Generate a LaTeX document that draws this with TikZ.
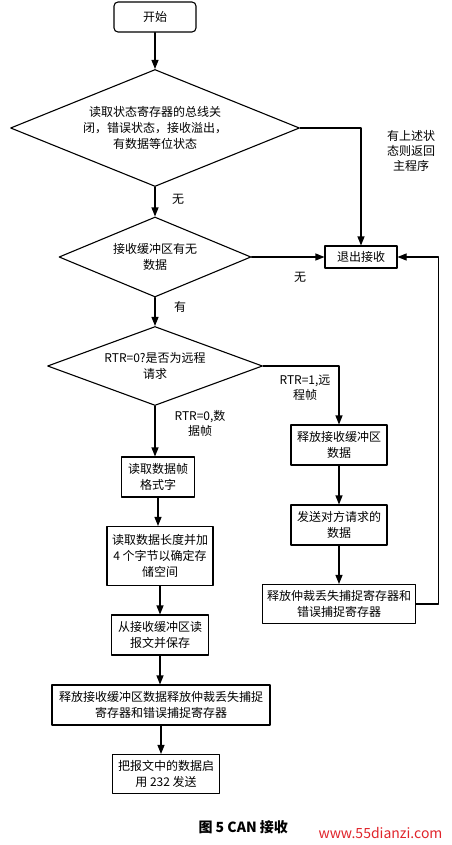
\documentclass[tikz,border=0pt]{standalone}
\usepackage{fontspec}
\setmainfont{Noto Sans CJK SC}
\usetikzlibrary{arrows.meta, shapes.geometric, positioning, calc}
\definecolor{markred}{HTML}{E0242B}

\begin{document}
\begin{tikzpicture}[x=1pt, y=1pt, line cap=round, line join=round,
    every node/.style={font=\fontsize{12}{16}\selectfont},
    box/.style={draw, line width=1.1pt, align=center, inner sep=2pt},
    decision/.style={diamond, draw, line width=1.1pt, align=center, aspect=2.5, inner sep=0pt},
    arr/.style={-{Triangle[length=9pt,width=7pt]}, line width=1.1pt},
    lbl/.style={align=center, font=\fontsize{12}{15}\selectfont}]
      \useasboundingbox (0,0) rectangle (451,-845);

      % Inicio y decisiones
      \node[box, rounded corners=4pt, minimum width=82pt, minimum height=30pt] (start) at (155,-17) {开始};
      \node[decision, minimum width=289pt, minimum height=117pt] (chk) at (155,-128) {读取状态寄存器的总线关\\闭，错误状态，接收溢出，\\有数据等位状态};
      \node[decision, minimum width=192pt, minimum height=80pt] (buf) at (155,-257) {接收缓冲区有无\\数据};
      \node[decision, minimum width=215pt, minimum height=79pt] (rtr) at (155,-366) {RTR=0?是否为远程\\请求};
      \node[box, minimum width=72pt, minimum height=22pt] (quit) at (361,-257) {退出接收};

      % Trama de datos
      \node[box, minimum width=73pt, minimum height=40pt] (fmt) at (158,-477) {读取数据帧\\格式字};
      \node[box, minimum width=106pt, minimum height=59pt] (len) at (160,-556) {读取数据长度并加\\4 个字节以确定存\\储空间};
      \node[box, minimum width=97pt, minimum height=40pt] (save) at (160,-635) {从接收缓冲区读\\报文并保存};
      \node[box, minimum width=218pt, minimum height=40pt] (rel) at (161,-705) {释放接收缓冲区数据释放仲裁丢失捕捉\\寄存器和错误捕捉寄存器};
      \node[box, minimum width=107pt, minimum height=39pt] (send) at (166,-774) {把报文中的数据启\\用 232 发送};

      % Trama remota
      \node[box, minimum width=96pt, minimum height=40pt] (relbuf) at (339,-445) {释放接收缓冲区\\数据};
      \node[box, minimum width=96pt, minimum height=40pt] (reply) at (339,-525) {发送对方请求的\\数据};
      \node[box, minimum width=153pt, minimum height=39pt] (relerr) at (339,-604) {释放仲裁丢失捕捉寄存器和\\错误捕捉寄存器};

      % Flechas
      \draw[arr] (start.south) -- (chk.north);
      \draw[arr] (chk.south) -- (buf.north);
      \draw[arr] (buf.south) -- (rtr.north);
      \draw[arr] (chk.east) -| (quit.north);
      \draw[arr] (buf.east) -- (quit.west);
      \draw[arr] (rtr.south) -- (rtr.south |- fmt.north);
      \draw[arr] (fmt.south) -- (fmt.south |- len.north);
      \draw[arr] (len.south) -- (len.south |- save.north);
      \draw[arr] (save.south) -- (save.south |- rel.north);
      \draw[arr] (rel.south) -- (rel.south |- send.north);
      \draw[arr] (rtr.east) -| (relbuf.north);
      \draw[arr] (relbuf) -- (reply);
      \draw[arr] (reply) -- (relerr);
      \draw[arr] (relerr.east) -- ++(22,0) |- (quit.east);

      % Etiquetas
      \node[lbl] (ret) at (411,-151) {有上述状\\态则返回\\主程序};
      \node[lbl] (no1) at (178,-199) {无};
      \node[lbl] (no2) at (300,-277) {无};
      \node[lbl] (yes) at (180,-307) {有};
      \node[lbl] (remote) at (305,-388) {RTR=1,远\\程帧};
      \node[lbl] (data) at (200,-423) {RTR=0,数\\据帧};

      % Pie
      \node[anchor=west, font=\bfseries\fontsize{14}{16}\selectfont] (cap) at (195,-827) {图 5 CAN 接收};
      \node[anchor=west, text=markred, font=\fontsize{14}{16}\selectfont] (mark) at (315,-833) {www.55dianzi.com};
    \end{tikzpicture}
\end{document}
